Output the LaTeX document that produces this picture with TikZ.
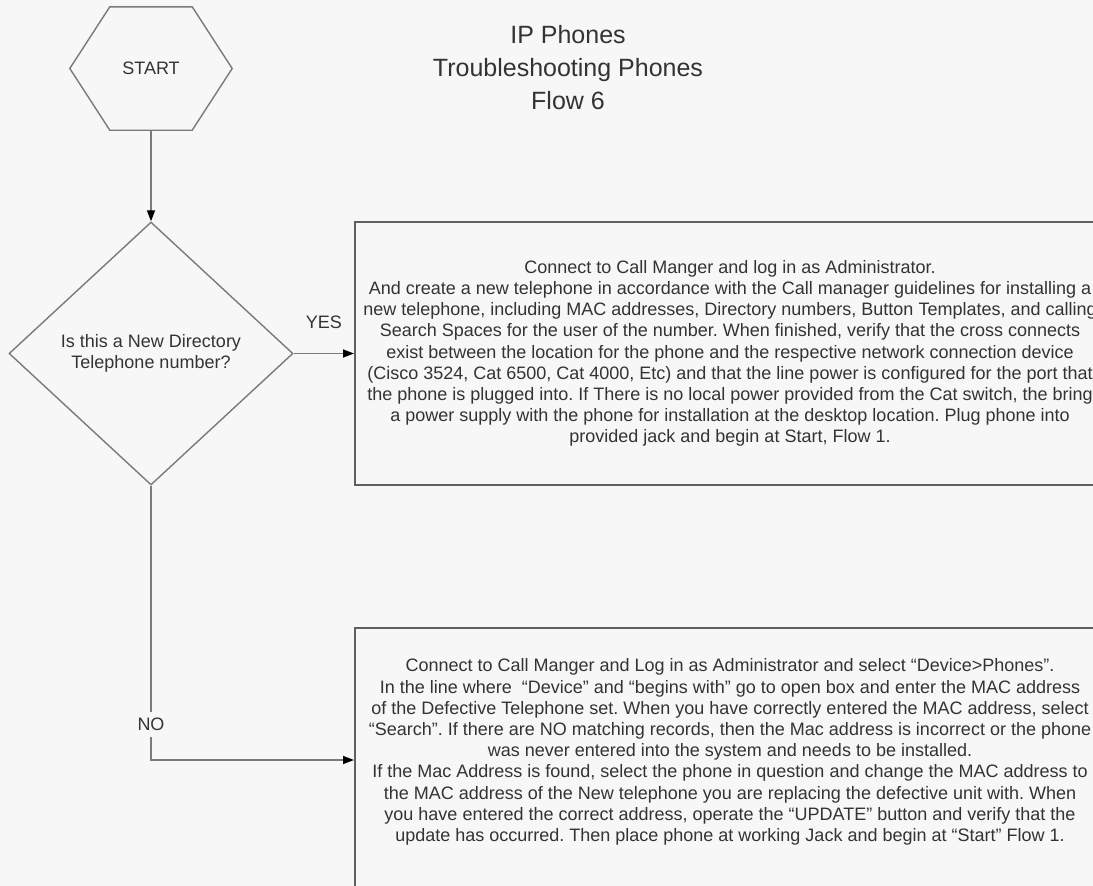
\documentclass[tikz,border=0pt]{standalone}
\usepackage{fontspec}
\setmainfont{Liberation Sans}
\usetikzlibrary{shapes.geometric,arrows.meta}
\definecolor{paper}{HTML}{F7F7F7}
\definecolor{ink}{HTML}{333333}
\definecolor{edge}{HTML}{7A7A7A}
\definecolor{frame}{HTML}{606060}
\frenchspacing

\begin{document}
\begin{tikzpicture}[x=1pt,y=-1pt,
  font=\fontsize{18}{21.2}\selectfont, text=ink,
  outline/.style={draw=edge, line width=1.4pt},
  terminal/.style={rectangle, minimum width=162pt, minimum height=123pt, inner sep=0pt},
  decision/.style={diamond, outline, minimum width=284pt, minimum height=263pt,
                   inner sep=0pt, align=center},
  panel/.style={rectangle, draw=frame, line width=2pt, minimum width=750pt, inner sep=0pt},
  note/.style={align=center, inner sep=0pt},
  flow/.style={draw=edge, line width=1.4pt,
               -{Triangle[length=11pt,width=8pt,color=black]}},
  tag/.style={inner sep=0pt},
]
% page and clipping
\path[use as bounding box, fill=paper] (0,0) rectangle (1093,886);
\clip (0,0) rectangle (1093,886);

% heading
\node[note, font=\fontsize{25}{33}\selectfont] (title) at (568,68)
  {IP Phones\\Troubleshooting Phones\\Flow 6};

% start terminal (hexagon drawn around its node)
\node[terminal] (start) at (151,68.5) {START};
\draw[outline] (start.west) -- ([xshift=40pt]start.north west)
  -- ([xshift=-40pt]start.north east) -- (start.east)
  -- ([xshift=-40pt]start.south east) -- ([xshift=40pt]start.south west) -- cycle;

% decision
\node[decision] (newnum) at (151,353.5) {Is this a New Directory\\Telephone number?};

% action for a new number
\node[panel, minimum height=263pt] (newbox) at (730,353.5) {};
\node[note] (newtext) at (newbox.center) {Connect to Call Manger and log in as Administrator.\\
And create a new telephone in accordance with the Call manager guidelines for installing a\\
new telephone, including MAC addresses, Directory numbers, Button Templates, and calling\\
Search Spaces for the user of the number. When finished, verify that the cross connects\\
exist between the location for the phone and the respective network connection device\\
(Cisco 3524, Cat 6500, Cat 4000, Etc) and that the line power is configured for the port that\\
the phone is plugged into. If There is no local power provided from the Cat switch, the bring\\
a power supply with the phone for installation at the desktop location. Plug phone into\\
provided jack and begin at Start, Flow 1.};

% action for a replacement set
\node[panel, minimum height=264pt] (fixbox) at (730,760) {};
\node[note] (fixtext) at ([yshift=8pt]fixbox.center) {Connect to Call Manger and Log in as Administrator and select “Device>Phones”.\\
In the line where\ \ “Device” and “begins with” go to open box and enter the MAC address\\
of the Defective Telephone set. When you have correctly entered the MAC address, select\\
“Search”. If there are NO matching records, then the Mac address is incorrect or the phone\\
was never entered into the system and needs to be installed.\\
If the Mac Address is found, select the phone in question and change the MAC address to\\
the MAC address of the New telephone you are replacing the defective unit with. When\\
you have entered the correct address, operate the “UPDATE” button and verify that the\\
update has occurred. Then place phone at working Jack and begin at “Start” Flow 1.};

% connectors
\draw[flow] (start) -- (newnum);
\draw[flow] (newnum) -- node[midway, above=24pt, tag] (yes) {YES} (newbox);
\draw[flow] (newnum.south) |- node[pos=0.435, fill=paper, inner xsep=2pt, inner ysep=6pt] (no) {NO} (fixbox.west);
\end{tikzpicture}
\end{document}
